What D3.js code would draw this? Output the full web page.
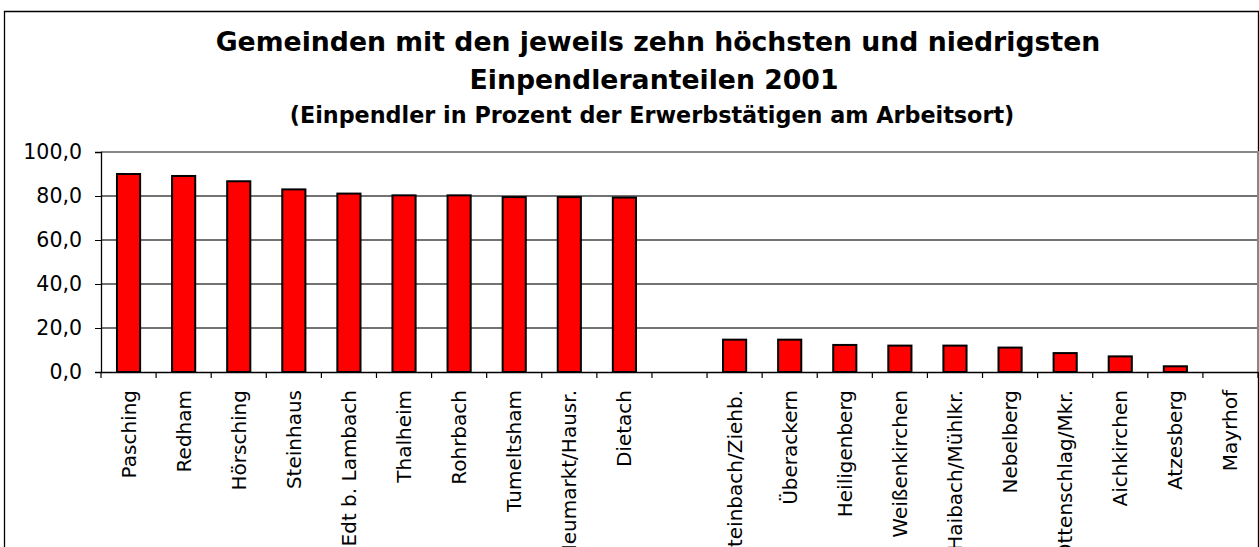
<!DOCTYPE html>
<meta charset="utf-8">
<style>
body { margin: 0; background: #fff; }
text { font-family: "DejaVu Sans", sans-serif; }
.grid line { stroke: #444; stroke-width: 1.3px; }
.bar { fill: #ff0000; stroke: #000; stroke-width: 2px; }
</style>
<svg width="1259" height="547"></svg>
<script src="https://cdn.jsdelivr.net/npm/d3@7"></script>
<script>

var towns = ["Pasching", "Redham", "Hörsching", "Steinhaus", "Edt b. Lambach", "Thalheim",
  "Rohrbach", "Tumeltsham", "Neumarkt/Hausr.", "Dietach", "",
  "Steinbach/Ziehb.", "Überackern", "Heiligenberg", "Weißenkirchen", "Haibach/Mühlkr.",
  "Nebelberg", "Ottenschlag/Mkr.", "Aichkirchen", "Atzesberg", "Mayrhof"];
var shares = [90.0, 89.1, 86.7, 83.0, 81.1, 80.3, 80.3, 79.5, 79.5, 79.3, null,
  14.7, 14.7, 12.3, 12.0, 12.0, 11.1, 8.6, 7.1, 2.6, 0];
var yTicks = [0, 20, 40, 60, 80, 100];

var svg = d3.select("svg"),
    margin = {top: 152, right: 1, bottom: 175, left: 101},
    width = 1259 - margin.left - margin.right,
    height = 547 - margin.top - margin.bottom;

// outer frame
svg.append("path")
    .attr("d", "M4.5,547 V11.5 H1258.5 V547")
    .attr("fill", "none")
    .attr("stroke", "#000")
    .attr("stroke-width", 1.3);

svg.append("text")
    .attr("x", 658).attr("y", 51)
    .attr("text-anchor", "middle")
    .style("font-size", "26.7px").style("font-weight", "bold")
    .text("Gemeinden mit den jeweils zehn höchsten und niedrigsten");
svg.append("text")
    .attr("x", 654).attr("y", 89)
    .attr("text-anchor", "middle")
    .style("font-size", "26.7px").style("font-weight", "bold")
    .text("Einpendleranteilen 2001");
svg.append("text")
    .attr("x", 652).attr("y", 123)
    .attr("text-anchor", "middle")
    .style("font-size", "22.3px").style("font-weight", "bold")
    .text("(Einpendler in Prozent der Erwerbstätigen am Arbeitsort)");

var g = svg.append("g").attr("transform", "translate(" + margin.left + "," + margin.top + ")");

var x = d3.scaleBand().domain(d3.range(towns.length)).range([0, width]).paddingInner(0.58).paddingOuter(0.29),
    xt = d3.scaleBand().domain(d3.range(towns.length)).range([0, width]),
    y = d3.scaleLinear().domain([0, 100]).range([height, 0]);

g.append("g")
    .attr("class", "grid")
    .selectAll("line")
    .data(yTicks.slice(1, 5))
  .enter().append("line")
    .attr("x1", 0).attr("x2", width)
    .attr("y1", function(d) { return y(d); })
    .attr("y2", function(d) { return y(d); });

// plot frame top/right
g.append("path")
    .attr("d", "M0," + y(100) + "H" + width + "V" + height)
    .attr("fill", "none")
    .attr("stroke", "#888")
    .attr("stroke-width", 2);

g.selectAll(".bar")
    .data(shares.map(function(v, i) { return {i: i, v: v}; }).filter(function(d) { return d.v !== null; }))
  .enter().append("rect")
    .attr("class", "bar")
    .attr("x", function(d) { return x(d.i); })
    .attr("width", x.bandwidth())
    .attr("y", function(d) { return y(d.v); })
    .attr("height", function(d) { return height - y(d.v); });

var yAxis = g.append("g")
    .call(d3.axisLeft(y).tickValues(yTicks).tickSize(6).tickPadding(13)
      .tickFormat(function(d) { return d3.format(".1f")(d).replace(".", ","); }));
yAxis.select(".domain").attr("stroke", "#000").attr("stroke-width", 1.3);
yAxis.selectAll("text").style("font-size", "20.5px").attr("fill", "#000")
    .style("font-family", "'DejaVu Sans', sans-serif");

var xAxis = g.append("g")
    .attr("transform", "translate(0," + height + ")")
    .call(d3.axisBottom(xt).tickSize(0).tickFormat(function(i) { return towns[i]; }));
xAxis.select(".domain").attr("stroke", "#000").attr("stroke-width", 1.5);
xAxis.selectAll("text")
    .style("font-size", "20px").attr("fill", "#000")
    .style("font-family", "'DejaVu Sans', sans-serif")
    .attr("transform", "rotate(-90)")
    .attr("text-anchor", "end")
    .attr("x", -18).attr("y", 0).attr("dy", "0.35em");

// boundary ticks between categories
g.append("g")
    .selectAll("line")
    .data(d3.range(towns.length + 1))
  .enter().append("line")
    .attr("x1", function(i) { return i * xt.step(); })
    .attr("x2", function(i) { return i * xt.step(); })
    .attr("y1", height).attr("y2", height + 6)
    .attr("stroke", "#000").attr("stroke-width", 1.2);

</script>
